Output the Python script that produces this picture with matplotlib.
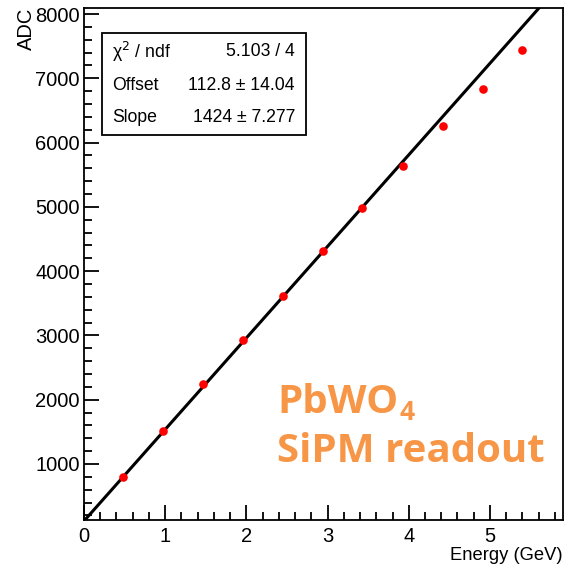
import matplotlib
matplotlib.use("Agg")
import matplotlib.pyplot as plt
import numpy as np
from matplotlib.ticker import MultipleLocator

# Data
energy = [0.484, 0.977, 1.469, 1.960, 2.450, 2.940, 3.430, 3.930, 4.420, 4.910, 5.400]
adc = [791, 1520, 2239, 2931, 3614, 4317, 4984, 5630, 6259, 6838, 7438]
fit_offset = 112.8
fit_slope = 1424.0
stat_labels = ["\u03c7$^{2}$ / ndf", "Offset", "Slope"]
stat_values = ["5.103 / 4", "112.8 \u00b1 14.04", "1424 \u00b1 7.277"]

W, H = 567, 566
fig = plt.figure(figsize=(W / 100, H / 100), dpi=100)
ax = fig.add_axes([84 / W, 1 - 520 / H, (563 - 84) / W, (520 - 8) / H])

xmin, xmax = 0.0, 5.9
ymin, ymax = 128, 8094
ax.set_xlim(xmin, xmax)
ax.set_ylim(ymin, ymax)

xf = np.linspace(xmin, xmax, 200)
ax.plot(xf, fit_offset + fit_slope * xf, color="black", lw=2.2, zorder=2)
ax.plot(energy, adc, "o", color="#ff0000", ms=6.2, mec="none", zorder=3)

font = "Liberation Sans"
ax.xaxis.set_major_locator(MultipleLocator(1))
ax.xaxis.set_minor_locator(MultipleLocator(0.2))
ax.yaxis.set_major_locator(MultipleLocator(1000))
ax.yaxis.set_minor_locator(MultipleLocator(200))
ax.tick_params(axis="both", which="both", direction="in", top=False, right=False,
               labelsize=14.5, width=1.3)
ax.tick_params(axis="both", which="major", length=11, pad=3)
ax.tick_params(axis="both", which="minor", length=6)
ax.tick_params(axis="x", which="major", pad=5)
for lbl in ax.get_xticklabels() + ax.get_yticklabels():
    lbl.set_fontfamily(font)
for sp in ax.spines.values():
    sp.set_linewidth(1.3)

ax.set_xlabel("Energy (GeV)", fontsize=13.2, family=font, loc="right")
ax.set_ylabel("ADC", fontsize=14.5, family=font, loc="top")
ax.yaxis.set_label_coords(-0.1, 1.0)
ax.xaxis.set_label_coords(1.0, -0.052)

# Stats box
bx0, by0, bx1, by1 = 102, 33, 306, 135
rect = plt.Rectangle((bx0 / W, 1 - by1 / H), (bx1 - bx0) / W, (by1 - by0) / H,
                     transform=fig.transFigure, fill=True, facecolor="white",
                     edgecolor="black", lw=1.3, zorder=5)
fig.patches.append(rect)
rows_y = [52, 85, 118]
for lab, val, yy in zip(stat_labels, stat_values, rows_y):
    fig.text(112 / W, 1 - yy / H, lab, fontsize=12.7, family=font, ha="left", va="center", zorder=6)
    fig.text(295 / W, 1 - yy / H, val, fontsize=12.7, family=font, ha="right", va="center", zorder=6)

# Orange annotation
orange = "#f79646"
ofont = "Open Sans"
t1 = fig.text(277 / W, 1 - 413 / H, "PbWO", fontsize=29, family=ofont,
              fontweight="bold", color=orange, ha="left", va="baseline")
fig.canvas.draw()
bb = t1.get_window_extent(renderer=fig.canvas.get_renderer())
fig.text((bb.x1 + 1) / W, 1 - 420 / H, "4", fontsize=19, family=ofont,
         fontweight="bold", color=orange, ha="left", va="baseline")
fig.text(277 / W, 1 - 462 / H, "SiPM readout", fontsize=29, family=ofont,
         fontweight="bold", color=orange, ha="left", va="baseline")

fig.savefig("out.png", dpi=100)
